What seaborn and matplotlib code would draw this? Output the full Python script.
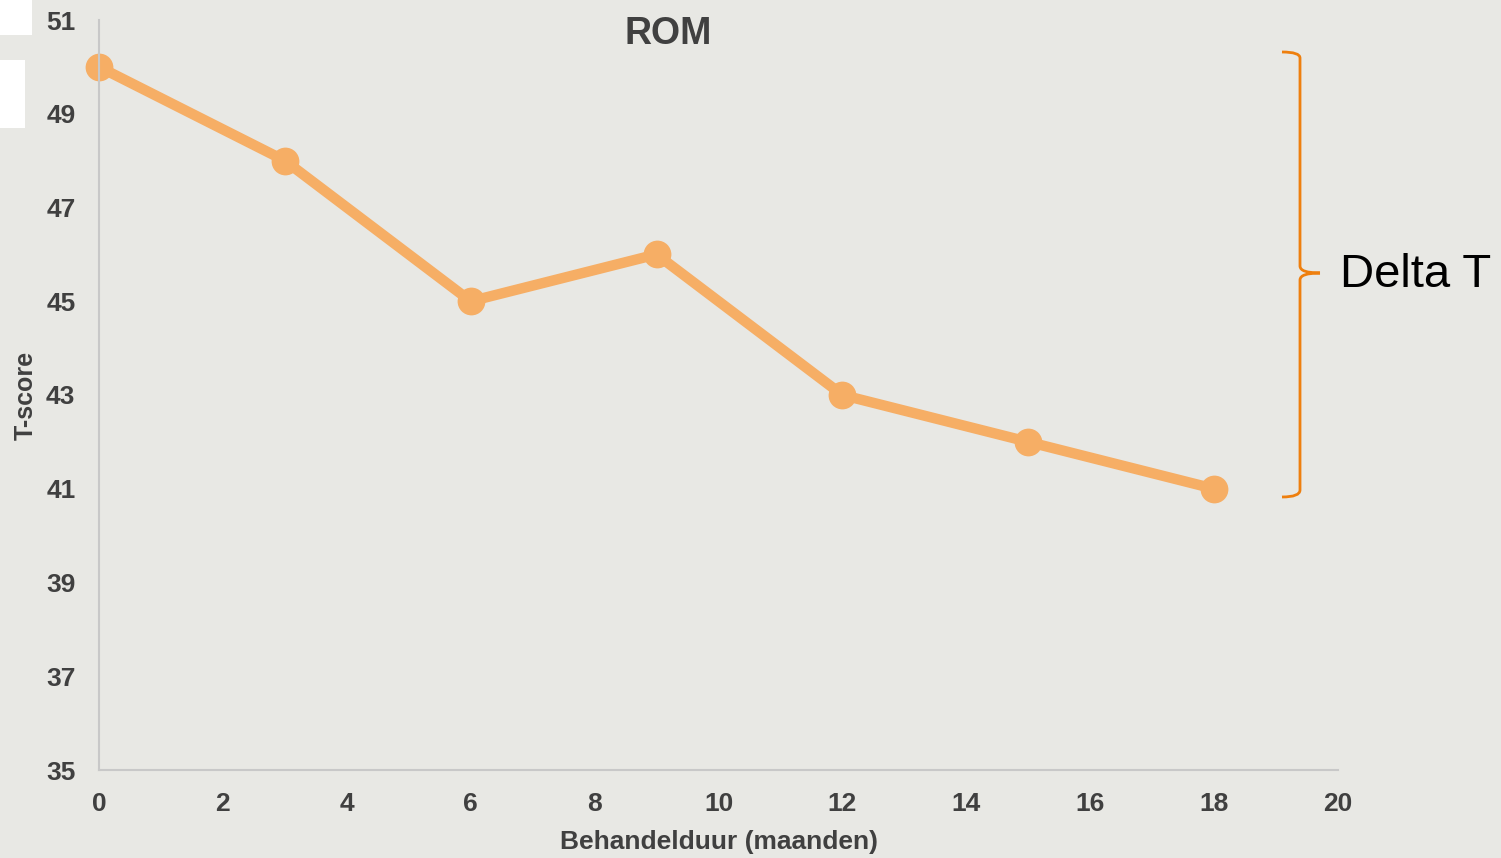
import matplotlib
matplotlib.use("Agg")
import matplotlib.pyplot as plt
from matplotlib.patches import Rectangle, PathPatch
from matplotlib.path import Path
import seaborn as sns
import pandas as pd

# data
months = [0, 3, 6, 9, 12, 15, 18]
t_score = [50, 48, 45, 46, 43, 42, 41]
x_ticks = [0, 2, 4, 6, 8, 10, 12, 14, 16, 18, 20]
y_ticks = [35, 37, 39, 41, 43, 45, 47, 49, 51]

df = pd.DataFrame({"months": months, "t_score": t_score})

bg = "#E8E8E4"
line_color = "#F6AE65"
brace_color = "#EE7F0E"
text_color = "#404040"

sns.set_style("white")
plt.rcParams["font.family"] = ["Liberation Sans", "DejaVu Sans"]

fig = plt.figure(figsize=(15.01, 8.58), dpi=100, facecolor=bg)
ax = fig.add_axes([99 / 1501, 1 - 770 / 858, (1338 - 99) / 1501, (770 - 20) / 858])
ax.set_facecolor(bg)

sns.lineplot(data=df, x="months", y="t_score", ax=ax, color=line_color,
             linewidth=7.5, marker="o", markersize=20, markeredgewidth=0,
             clip_on=False)

ax.set_xlim(0, 20)
ax.set_ylim(35, 51)
ax.set_xticks(x_ticks)
ax.set_yticks(y_ticks)
ax.tick_params(axis="x", length=0, labelsize=19, labelcolor=text_color, pad=16)
ax.tick_params(axis="y", length=0, labelsize=19, labelcolor=text_color, pad=17)
for lab in ax.get_xticklabels() + ax.get_yticklabels():
    lab.set_fontweight("bold")

for s in ["top", "right"]:
    ax.spines[s].set_visible(False)
for s in ["left", "bottom"]:
    ax.spines[s].set_color("#C8C8C8")
    ax.spines[s].set_linewidth(1.5)

ax.set_xlabel("Behandelduur (maanden)", fontsize=19, fontweight="bold",
              color=text_color, labelpad=10)
ax.set_ylabel("T-score", fontsize=18, fontweight="bold", color=text_color,
              labelpad=6)
ax.text(0.459, 1.005, "ROM", transform=ax.transAxes, ha="center", va="top",
        fontsize=27, fontweight="bold", color=text_color)

# white boxes at top left
W, H = 1501, 858
fig.patches.append(Rectangle((0, 1 - 35 / H), 32 / W, 35 / H,
                             transform=fig.transFigure, facecolor="white",
                             edgecolor="none"))
fig.patches.append(Rectangle((0, 1 - 128 / H), 25 / W, 68 / H,
                             transform=fig.transFigure, facecolor="white",
                             edgecolor="none"))

# brace
def fp(x, y):
    return (x / W, 1 - y / H)

verts = [fp(1282, 52), fp(1300, 52), fp(1300, 58), fp(1300, 266),
         fp(1300, 273), fp(1320, 273),
         fp(1320, 273), fp(1300, 273), fp(1300, 280), fp(1300, 490),
         fp(1300, 497), fp(1282, 497)]
codes = [Path.MOVETO, Path.CURVE3, Path.CURVE3, Path.LINETO,
         Path.CURVE3, Path.CURVE3,
         Path.MOVETO, Path.CURVE3, Path.CURVE3, Path.LINETO,
         Path.CURVE3, Path.CURVE3]
fig.patches.append(PathPatch(Path(verts, codes), transform=fig.transFigure,
                             facecolor="none", edgecolor=brace_color, lw=2))
fig.text(1340 / W, 1 - 275 / H, "Delta T", fontsize=34, color="black",
         va="center", ha="left")

fig.savefig("out.png", dpi=100, facecolor=bg)
